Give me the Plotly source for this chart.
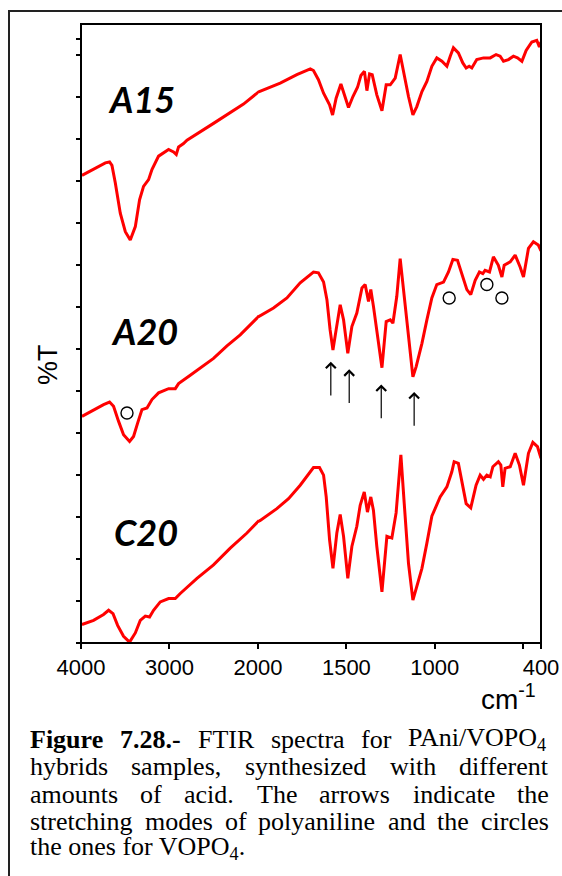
import plotly.graph_objects as go

# FTIR spectra of PAni/VOPO4 hybrids (wavenumber in cm^-1, %T in arbitrary offset units)
A15_wn = [3989, 3858, 3725, 3677, 3650, 3612, 3556, 3499, 3443, 3386, 3338, 3293, 3236, 3198, 3123,
          3010, 2954, 2923, 2897, 2841, 2802, 2502, 2163, 1987, 1874, 1780, 1704, 1686, 1658, 1629,
          1595, 1578, 1558, 1531, 1507, 1488, 1463, 1437, 1418, 1398, 1384, 1369, 1354, 1328, 1299,
          1275, 1252, 1224, 1196, 1173, 1149, 1124, 1102, 1073, 1045, 1017, 989, 960, 932, 913,
          895, 867, 842, 823, 806, 791, 763, 725, 687, 654, 631, 612, 584, 556, 533, 508, 484,
          452, 424, 409, 400]
A15_t = [55.7, 56.4, 57.2, 57.3, 56.9, 54.8, 51.2, 49.0, 48.0, 49.6, 52.8, 54.4, 55.2, 56.4, 58.0,
         58.8, 58.5, 58.2, 59.1, 59.5, 59.9, 61.9, 64.2, 65.7, 66.7, 67.7, 68.4, 68.2, 67.1, 65.5,
         64.1, 62.9, 64.9, 66.6, 64.9, 63.8, 65.1, 66.2, 67.6, 68.1, 65.8, 67.8, 67.7, 65.3, 63.4,
         66.5, 66.5, 67.3, 70.1, 67.5, 65.1, 62.9, 63.9, 65.7, 66.9, 68.7, 69.7, 69.3, 68.7, 69.9,
         70.9, 70.3, 69.1, 68.5, 68.7, 68.5, 69.5, 69.7, 69.7, 70.1, 69.9, 69.3, 69.5, 69.9, 69.7,
         69.3, 70.6, 71.6, 71.8, 71.0, 71.6]

A20_wn = [3989, 3858, 3745, 3677, 3632, 3575, 3519, 3451, 3406, 3360, 3311, 3254, 3198, 3123, 3010,
          2934, 2897, 2765, 2502, 2350, 2200, 2011, 1912, 1836, 1761, 1686, 1658, 1629, 1610, 1592,
          1576, 1558, 1535, 1516, 1492, 1469, 1441, 1412, 1394, 1375, 1362, 1347, 1328, 1299, 1275,
          1252, 1237, 1215, 1196, 1177, 1158, 1140, 1124, 1106, 1073, 1045, 1017, 989, 951, 923,
          898, 872, 847, 819, 797, 772, 748, 729, 716, 691, 669, 641, 621, 608, 574, 546, 518,
          499, 471, 443, 415, 400]
A20_t = [27.0, 27.8, 28.4, 28.7, 28.2, 26.4, 24.8, 24.0, 24.6, 26.2, 27.8, 28.0, 29.0, 29.8, 30.3,
         30.3, 30.9, 31.9, 33.9, 35.4, 36.7, 38.7, 39.9, 41.1, 42.9, 44.2, 44.1, 43.0, 40.9, 37.3,
         34.9, 37.3, 40.3, 38.5, 34.5, 37.7, 39.3, 42.3, 42.7, 40.7, 42.1, 40.1, 37.3, 32.8, 38.3,
         38.5, 38.1, 41.3, 45.8, 42.1, 38.1, 34.1, 31.7, 32.9, 35.7, 38.5, 41.1, 42.7, 43.0, 44.2,
         45.7, 45.6, 44.0, 42.1, 41.5, 43.2, 44.2, 44.0, 44.4, 44.2, 46.0, 45.0, 43.6, 45.0, 45.4,
         46.2, 44.8, 43.6, 47.0, 47.8, 47.4, 46.7]

C20_wn = [3989, 3858, 3745, 3688, 3638, 3586, 3519, 3451, 3386, 3330, 3273, 3225, 3180, 3104, 3010,
          2934, 2878, 2689, 2502, 2313, 2124, 1987, 1893, 1827, 1761, 1686, 1652, 1629, 1614, 1595,
          1576, 1554, 1535, 1516, 1492, 1469, 1441, 1422, 1399, 1381, 1362, 1347, 1328, 1299, 1271,
          1243, 1219, 1192, 1173, 1149, 1124, 1102, 1073, 1045, 1017, 970, 932, 904, 891, 867,
          847, 823, 797, 767, 744, 725, 706, 687, 672, 641, 627, 616, 603, 574, 546, 522, 499,
          471, 446, 420, 400]
C20_t = [2.2, 2.7, 3.4, 3.9, 3.5, 2.1, 0.8, 0.1, 1.2, 2.7, 3.2, 3.1, 3.9, 4.9, 5.3,
         5.3, 5.9, 7.7, 9.3, 11.3, 13.1, 14.6, 16.0, 17.2, 18.8, 20.9, 20.9, 20.0, 17.4, 12.3,
         8.9, 13.1, 15.3, 12.7, 7.7, 11.5, 13.9, 16.4, 18.0, 15.6, 17.4, 15.8, 11.5, 6.1, 12.7,
         12.5, 15.5, 22.4, 16.6, 9.5, 5.1, 6.7, 8.9, 11.9, 15.1, 17.4, 18.6, 20.4, 21.6, 21.4,
         19.4, 16.6, 16.1, 18.8, 20.0, 19.5, 20.0, 19.8, 21.0, 21.6, 21.2, 18.6, 20.8, 21.0, 22.6,
         21.2, 18.8, 22.6, 23.9, 23.4, 22.0]

SAMPLES = ["A15", "A20", "C20"]
SAMPLE_LABEL_WN = [3319, 3279, 3262]
SAMPLE_LABEL_T = [64.8, 37.2, 13.2]

# PAni stretching bands (arrows) and VOPO4 bands (circles) marked on A20
PANI_BANDS = [1588, 1484, 1303, 1117]
PANI_TIP_T = [33.5, 32.6, 30.8, 29.9]
PANI_TAIL_T = [29.3, 28.4, 26.6, 25.7]
VOPO_BANDS = [3480, 919, 706, 621]
VOPO_T = [27.4, 41.1, 42.7, 41.1]

X_HI_TICKS = [4000, 3000, 2000]
X_LO_TICKS = [1500, 1000, 500, 400]
X_LO_TEXT = ["1500", "1000", "", "400"]

CAPTION = [
    ["<b>Figure</b>", "<b>7.28.-</b>", "FTIR", "spectra", "for", "PAni/VOPO<sub>4</sub>"],
    ["hybrids", "samples,", "synthesized", "with", "different"],
    ["amounts", "of", "acid.", "The", "arrows", "indicate", "the"],
    ["stretching", "modes", "of", "polyaniline", "and", "the", "circles"],
]
CAPTION_LAST = "the ones for VOPO<sub>4</sub>."

# ---- page geometry (pixels from the top-left corner)
W, H = 562, 876
PLOT_L, PLOT_R, PLOT_T, PLOT_B = 81, 541, 24, 643
PW = PLOT_R - PLOT_L
PH = PLOT_B - PLOT_T
SPLIT = 2 / 5.2  # 4000-2000 and 2000-400 share equal spacing per tick (1000 vs 500 cm-1)

RED = "#ff0000"


def px_x(px):
    return (px - PLOT_L) / PW


def px_y(py):
    return (PLOT_B - py) / PH


def split(wn, t):
    hi_x, hi_y, lo_x, lo_y = [], [], [], []
    for i, (w, v) in enumerate(zip(wn, t)):
        if w >= 2000 or (i > 0 and wn[i - 1] >= 2000):
            hi_x.append(w)
            hi_y.append(v)
        if w <= 2000 or (i + 1 < len(wn) and wn[i + 1] <= 2000):
            lo_x.append(w)
            lo_y.append(v)
    return hi_x, hi_y, lo_x, lo_y


fig = go.Figure()
for wn, t in [(A15_wn, A15_t), (A20_wn, A20_t), (C20_wn, C20_t)]:
    hx, hy, lx, ly = split(wn, t)
    line = dict(color=RED, width=3)
    fig.add_trace(go.Scatter(x=hx, y=hy, mode="lines", line=line, xaxis="x", yaxis="y",
                             showlegend=False, hoverinfo="skip"))
    fig.add_trace(go.Scatter(x=lx, y=ly, mode="lines", line=line, xaxis="x2", yaxis="y",
                             showlegend=False, hoverinfo="skip"))

# VOPO4 circles
circ = dict(symbol="circle-open", size=12, color="black", line=dict(width=1.4, color="black"))
hi_c = [(w, v) for w, v in zip(VOPO_BANDS, VOPO_T) if w > 2000]
lo_c = [(w, v) for w, v in zip(VOPO_BANDS, VOPO_T) if w <= 2000]
fig.add_trace(go.Scatter(x=[c[0] for c in hi_c], y=[c[1] for c in hi_c], mode="markers",
                         marker=circ, xaxis="x", yaxis="y", showlegend=False, hoverinfo="skip"))
fig.add_trace(go.Scatter(x=[c[0] for c in lo_c], y=[c[1] for c in lo_c], mode="markers",
                         marker=circ, xaxis="x2", yaxis="y", showlegend=False, hoverinfo="skip"))

annotations = []

# PAni arrows
for w, tip, tail in zip(PANI_BANDS, PANI_TIP_T, PANI_TAIL_T):
    annotations.append(dict(x=w, y=tip, ax=w, ay=tail, xref="x2", yref="y", axref="x2", ayref="y",
                            text="", showarrow=True, arrowhead=4, arrowsize=1.6, arrowwidth=1.2,
                            arrowcolor="black", standoff=0, startstandoff=0))

# sample labels
for name, lw, tv in zip(SAMPLES, SAMPLE_LABEL_WN, SAMPLE_LABEL_T):
    annotations.append(dict(x=lw, y=tv, xref="x", yref="y", text=f"<b><i>{name}</i></b>",
                            xanchor="center", yanchor="middle", showarrow=False,
                            font=dict(family="Lato", size=36, color="black")))

# y title
annotations.append(dict(x=px_x(48), y=px_y(365), xref="paper", yref="paper", text="%T",
                        textangle=-90, showarrow=False, xanchor="center", yanchor="middle",
                        font=dict(family="Liberation Sans", size=27, color="black")))
# x unit
annotations.append(dict(x=px_x(508), y=px_y(697), xref="paper", yref="paper",
                        text="cm<sup>-1</sup>", showarrow=False, xanchor="center",
                        yanchor="middle",
                        font=dict(family="Liberation Sans", size=28, color="black")))

# caption, justified between the two text margins (Times metrics, 1/1000 em)
REG = {" ": 250, "a": 444, "b": 500, "c": 444, "d": 500, "e": 444, "f": 333, "g": 500, "h": 500,
       "i": 278, "j": 278, "k": 500, "l": 278, "m": 778, "n": 500, "o": 500, "p": 500, "q": 500,
       "r": 333, "s": 389, "t": 278, "u": 500, "v": 500, "w": 722, "x": 500, "y": 500, "z": 444,
       "A": 722, "F": 556, "I": 333, "O": 722, "P": 556, "R": 667, "T": 611, "V": 722,
       ".": 250, ",": 250, "/": 278, "-": 333}
BOLD = {"F": 611, "i": 278, "g": 500, "u": 556, "r": 444, "e": 444, ".": 250, "-": 333}
CAP_SIZE = 26
CAP_L, CAP_R = 29, 548
CAP_Y = [739, 766.5, 794, 821, 848]
cap_font = dict(family="Liberation Serif", size=CAP_SIZE, color="black")


def word_width(word):
    bold = word.startswith("<b>")
    w = word.replace("<b>", "").replace("</b>", "")
    total = 0.0
    scale = 1.0
    i = 0
    while i < len(w):
        if w.startswith("<sub>", i):
            scale = 0.7
            i += 5
            continue
        if w.startswith("</sub>", i):
            scale = 1.0
            i += 6
            continue
        ch = w[i]
        if ch.isdigit():
            cw = 500
        elif bold:
            cw = BOLD.get(ch, REG.get(ch, 500))
        else:
            cw = REG.get(ch, 500)
        total += cw * scale
        i += 1
    return total * CAP_SIZE / 1000


for words, cy in zip(CAPTION, CAP_Y):
    widths = [word_width(w) for w in words]
    gap = (CAP_R - CAP_L - sum(widths)) / (len(words) - 1)
    x = CAP_L
    for w, ww in zip(words, widths):
        annotations.append(dict(x=px_x(x), y=px_y(cy), xref="paper", yref="paper", text=w,
                                xanchor="left", yanchor="middle", showarrow=False, borderpad=0,
                                font=cap_font))
        x += ww + gap
annotations.append(dict(x=px_x(CAP_L), y=px_y(CAP_Y[-1]), xref="paper", yref="paper",
                        text=CAPTION_LAST, xanchor="left", yanchor="middle", showarrow=False,
                        borderpad=0, font=cap_font))

shapes = [
    # plot frame
    dict(type="rect", xref="paper", yref="paper", x0=0, x1=1, y0=0, y1=1,
         line=dict(color="black", width=2)),
    # outer figure box
    dict(type="path", xref="paper", yref="paper",
         path=f"M {px_x(9)},{px_y(H + 5)} L {px_x(9)},{px_y(11)} L {px_x(W + 5)},{px_y(11)}",
         line=dict(color="#222222", width=2)),
]

tickfont = dict(family="Liberation Sans", size=22, color="black")
xcommon = dict(showgrid=False, zeroline=False, showline=False, ticks="outside", ticklen=5,
               tickwidth=2, tickcolor="black", tickfont=tickfont, anchor="y", automargin=False)

fig.update_layout(
    width=W, height=H,
    margin=dict(l=PLOT_L, r=W - PLOT_R, t=PLOT_T, b=H - PLOT_B),
    paper_bgcolor="white", plot_bgcolor="white",
    xaxis=dict(domain=[0, SPLIT], range=[4000, 2000], tickvals=X_HI_TICKS,
               ticktext=[str(v) for v in X_HI_TICKS], **xcommon),
    xaxis2=dict(domain=[SPLIT, 1], range=[2000, 400], tickvals=X_LO_TICKS,
                ticktext=X_LO_TEXT, **xcommon),
    yaxis=dict(range=[0, 73.74], tickvals=list(range(0, 75, 5)) + [72], showticklabels=False,
               ticks="outside", ticklen=4, tickwidth=2, tickcolor="black", showgrid=False,
               zeroline=False, showline=False, automargin=False),
    annotations=annotations,
    shapes=shapes,
)

fig.write_html("out.html")
